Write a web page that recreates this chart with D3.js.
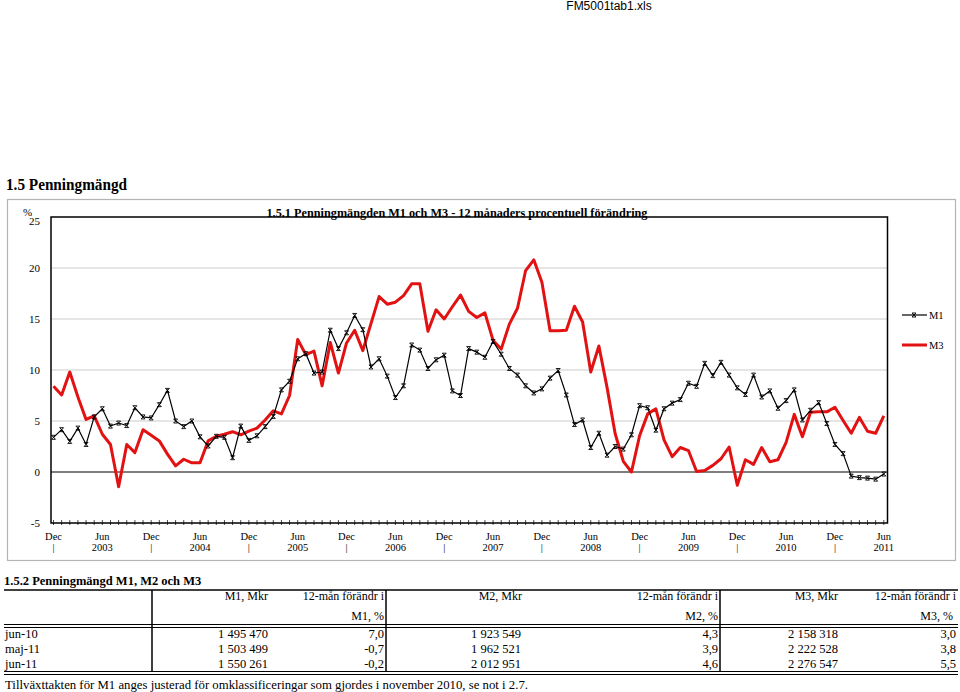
<html>
<head>
<script src="https://d3js.org/d3.v7.min.js"></script>
<style>
body { margin: 0; background: #fff; }
svg { display: block; }
text { font-family: 'Liberation Serif', 'Times New Roman', serif; fill: #000; }
</style>
</head>
<body>
<div id="chart"></div>
<script>
// monthly values, Dec 2002 .. Jun 2011 (12-month % change)
var m1Values = [3.4, 4.15, 3.0, 4.3, 2.7, 5.4, 6.2, 4.5, 4.8, 4.55, 6.3, 5.4, 5.3, 6.6, 8.0, 5.0, 4.45, 5.0, 3.45, 2.55, 3.5,
  3.4, 1.4, 4.5, 3.1, 3.55, 4.45, 5.45, 8.05, 8.9, 11.1, 11.6, 9.7, 9.8, 13.9, 12.1, 13.65, 15.35, 13.95, 10.3, 11.1,
  9.4, 7.3, 8.45, 12.45, 11.95, 10.15, 11.0, 11.45, 7.95, 7.5, 12.1, 11.75, 11.25, 12.8, 11.55, 10.15, 9.5, 8.45, 7.75, 8.15, 9.2,
  9.95, 7.55, 4.65, 5.1, 2.4, 3.8, 1.65, 2.5, 2.25, 3.65, 6.5, 6.3, 4.1, 6.2, 6.75, 7.1, 8.7, 8.4, 10.65, 9.45,
  10.75, 9.5, 8.25, 7.6, 9.5, 7.35, 7.95, 6.25, 7.0, 8.05, 5.1, 6.05, 6.8, 4.75, 2.7, 1.8, -0.4, -0.55, -0.6, -0.7, -0.2];
var m3Values = [8.4, 7.55, 9.8, 7.35, 5.15, 5.5, 3.7, 2.7, -1.45, 2.7, 1.9, 4.15, 3.6, 3.05, 1.75, 0.6, 1.25, 0.9, 0.9, 3.05, 3.5,
  3.7, 3.95, 3.65, 4.0, 4.3, 5.1, 6.0, 5.7, 7.5, 13.0, 11.5, 11.85, 8.45, 12.7, 9.7, 12.65, 13.9, 11.9, 14.55, 17.2,
  16.45, 16.65, 17.3, 18.45, 18.45, 13.8, 15.9, 15.0, 16.2, 17.35, 15.75, 15.15, 15.6, 12.9, 12.05, 14.5, 16.05, 19.75, 20.8, 18.6, 13.85,
  13.85, 13.9, 16.25, 14.7, 9.8, 12.35, 8.3, 3.75, 1.05, 0.0, 3.55, 5.7, 6.2, 3.15, 1.5, 2.4, 2.1, 0.05, 0.15, 0.65,
  1.3, 2.45, -1.3, 1.2, 0.75, 2.4, 1.0, 1.2, 2.9, 5.65, 3.45, 5.85, 5.9, 5.9, 6.35, 5.05, 3.8, 5.35, 4.0, 3.8, 5.5];

var monthNames = ["jan","feb","mar","apr","maj","jun","jul","aug","sep","okt","nov","dec"];
var months = [];
for (var k = 0; k < m1Values.length; k++) {
  var mi = (11 + k) % 12, yr = 2002 + Math.floor((11 + k) / 12);
  months.push(monthNames[mi] + "-" + yr);
}

var yTicks = [20, 15, 10, 5, 0, -5];
var gridValues = [5, 10, 15, 20];
var xLabelTop = ["Dec","Jun","Dec","Jun","Dec","Jun","Dec","Jun","Dec","Jun","Dec","Jun","Dec","Jun","Dec","Jun","Dec","Jun"];
var xLabelBottom = ["|","2003","|","2004","|","2005","|","2006","|","2007","|","2008","|","2009","|","2010","|","2011"];

// table 1.5.2
var tableRows = ["jun-10", "maj-11", "jun-11"];
var m1Mkr = ["1 495 470", "1 503 499", "1 550 261"];
var m1Pct = ["7,0", "-0,7", "-0,2"];
var m2Mkr = ["1 923 549", "1 962 521", "2 012 951"];
var m2Pct = ["4,3", "3,9", "4,6"];
var m3Mkr = ["2 158 318", "2 222 528", "2 276 547"];
var m3Pct = ["3,0", "3,8", "5,5"];

var svg = d3.select("#chart").append("svg").attr("width", 960).attr("height", 692);

// header texts
svg.append("text").attr("x", 609).attr("y", 10).attr("text-anchor", "middle")
  .style("font-family", "'Liberation Sans', Arial, sans-serif").style("font-size", "12px")
  .text("FM5001tab1.xls");
svg.append("text").attr("x", 6).attr("y", 190).style("font-size", "16px").style("font-weight", "bold")
  .attr("textLength", 121).attr("lengthAdjust", "spacingAndGlyphs")
  .text("1.5  Penningmängd");

// chart frame
svg.append("rect").attr("x", 7.5).attr("y", 199.5).attr("width", 948).attr("height", 361)
  .attr("fill", "#fff").attr("stroke", "#b4b4b4").attr("stroke-width", 1.2);

var x = d3.scalePoint().domain(months).range([53.5, 883.8]);
var y = d3.scaleLinear().domain([-5, 25]).range([523, 217]);
var plotL = 51, plotR = 887.5;

// grid
svg.selectAll(".grid").data(gridValues).enter().append("line")
  .attr("x1", plotL).attr("x2", plotR)
  .attr("y1", function(d){ return y(d); }).attr("y2", function(d){ return y(d); })
  .attr("stroke", "#dcdcdc").attr("stroke-width", 1.5);

// zero line
svg.append("line").attr("x1", plotL).attr("x2", plotR).attr("y1", y(0)).attr("y2", y(0))
  .attr("stroke", "#000").attr("stroke-width", 1.2);

// plot border
svg.append("rect").attr("x", plotL).attr("y", y(25)).attr("width", plotR - plotL).attr("height", y(-5) - y(25))
  .attr("fill", "none").attr("stroke", "#000").attr("stroke-width", 1.5);

// y labels
svg.selectAll(".ylab").data(yTicks).enter().append("text")
  .attr("x", 40).attr("y", function(d){ return y(d) + 4; }).attr("text-anchor", "end")
  .style("font-size", "11px").attr("fill", "#222")
  .text(function(d){ return d; });
svg.append("text").attr("x", 40).attr("y", y(25) + 8).attr("text-anchor", "end")
  .style("font-size", "11px").attr("fill", "#222").text("25");
svg.append("text").attr("x", 23).attr("y", y(25) - 1).style("font-size", "11px").attr("fill", "#222").text("%");

// x axis monthly ticks
svg.selectAll(".xt").data(months).enter().append("line")
  .attr("x1", function(d){ return x(d); }).attr("x2", function(d){ return x(d); })
  .attr("y1", y(-5) - 3).attr("y2", y(-5) + 2)
  .attr("stroke", "#000").attr("stroke-width", 0.7);

var labelMonths = months.filter(function(d, i){ return i % 6 === 0; });
svg.selectAll(".xl1").data(labelMonths).enter().append("text")
  .attr("x", function(d){ return x(d); }).attr("y", 540).attr("text-anchor", "middle")
  .style("font-size", "10.5px").attr("fill", "#222")
  .text(function(d, i){ return xLabelTop[i]; });
svg.selectAll(".xl2").data(labelMonths).enter().append("text")
  .attr("x", function(d){ return x(d); }).attr("y", 551).attr("text-anchor", "middle")
  .style("font-size", "10.5px").attr("fill", "#222")
  .text(function(d, i){ return xLabelBottom[i]; });

// chart title
svg.append("text").attr("x", 457).attr("y", 217).attr("text-anchor", "middle")
  .style("font-size", "12.5px").style("font-weight", "bold")
  .attr("textLength", 381).attr("lengthAdjust", "spacingAndGlyphs")
  .text("1.5.1 Penningmängden M1 och M3 - 12 månaders procentuell förändring");

// lines
var line = d3.line().x(function(d){ return x(d.m); }).y(function(d){ return y(d.v); });
var m1Data = months.map(function(m, i){ return {m: m, v: m1Values[i]}; });
var m3Data = months.map(function(m, i){ return {m: m, v: m3Values[i]}; });

svg.append("path").datum(m3Data).attr("d", line)
  .attr("fill", "none").attr("stroke", "#e21212").attr("stroke-width", 3).attr("stroke-linejoin", "round");
svg.append("path").datum(m1Data).attr("d", line)
  .attr("fill", "none").attr("stroke", "#000").attr("stroke-width", 1.2);

var markerPath = "M-2,-2L2,2M2,-2L-2,2M-2,-2H2M-2,2H2";
svg.selectAll(".mk").data(m1Data).enter().append("path")
  .attr("transform", function(d){ return "translate(" + x(d.m) + "," + y(d.v) + ")"; })
  .attr("d", markerPath).attr("stroke", "#000").attr("stroke-width", 0.9).attr("fill", "none");

// legend
svg.append("line").attr("x1", 902).attr("x2", 927).attr("y1", 315).attr("y2", 315).attr("stroke", "#000").attr("stroke-width", 1.2);
svg.append("path").attr("transform", "translate(914,315)").attr("d", markerPath).attr("stroke", "#000").attr("stroke-width", 0.9);
svg.append("text").attr("x", 929).attr("y", 319).style("font-size", "10.5px").attr("fill", "#222").text("M1");
svg.append("line").attr("x1", 902).attr("x2", 927).attr("y1", 345).attr("y2", 345).attr("stroke", "#e21212").attr("stroke-width", 3);
svg.append("text").attr("x", 929).attr("y", 349).style("font-size", "10.5px").attr("fill", "#222").text("M3");

// table 1.5.2
svg.append("text").attr("x", 4).attr("y", 585).style("font-size", "12.5px").style("font-weight", "bold")
  .text("1.5.2  Penningmängd M1, M2 och M3");

var tL = 4, tR = 958;
function hline(yy, w) {
  svg.append("line").attr("x1", tL).attr("x2", tR).attr("y1", yy).attr("y2", yy).attr("stroke", "#000").attr("stroke-width", w);
}
hline(590, 1.5);
hline(624.5, 1.2);
hline(627.5, 1.2);
hline(671.5, 1.2);
hline(674.5, 1.2);

var vCols = [152, 386, 720];
svg.selectAll(".vc").data(vCols).enter().append("line")
  .attr("x1", function(d){ return d; }).attr("x2", function(d){ return d; })
  .attr("y1", 590).attr("y2", 672).attr("stroke", "#000").attr("stroke-width", 1.5);

var headers = [
  {t: "M1, Mkr", x: 268, y: 600}, {t: "12-mån förändr i", x: 384, y: 600}, {t: "M1, %", x: 384, y: 620},
  {t: "M2, Mkr", x: 522, y: 600}, {t: "12-mån förändr i", x: 718, y: 600}, {t: "M2, %", x: 718, y: 620},
  {t: "M3, Mkr", x: 838, y: 600}, {t: "12-mån förändr i", x: 956, y: 600}, {t: "M3, %", x: 953, y: 620}
];
svg.selectAll(".th").data(headers).enter().append("text")
  .attr("x", function(d){ return d.x; }).attr("y", function(d){ return d.y; }).attr("text-anchor", "end")
  .style("font-size", "12px").attr("fill", "#222").text(function(d){ return d.t; });

var cols = [
  {vals: m1Mkr, x: 268}, {vals: m1Pct, x: 384}, {vals: m2Mkr, x: 521},
  {vals: m2Pct, x: 718}, {vals: m3Mkr, x: 838}, {vals: m3Pct, x: 956}
];
tableRows.forEach(function(r, i) {
  var ry = 638 + i * 15;
  svg.append("text").attr("x", 5).attr("y", ry).style("font-size", "12.5px").text(r);
  cols.forEach(function(c) {
    svg.append("text").attr("x", c.x).attr("y", ry).attr("text-anchor", "end")
      .style("font-size", "12.5px").text(c.vals[i]);
  });
});

svg.append("text").attr("x", 5).attr("y", 689).style("font-size", "13px")
  .attr("textLength", 523).attr("lengthAdjust", "spacingAndGlyphs")
  .text("Tillväxttakten för M1 anges justerad för omklassificeringar som gjordes i november 2010, se not i 2.7.");
</script>
</body>
</html>
